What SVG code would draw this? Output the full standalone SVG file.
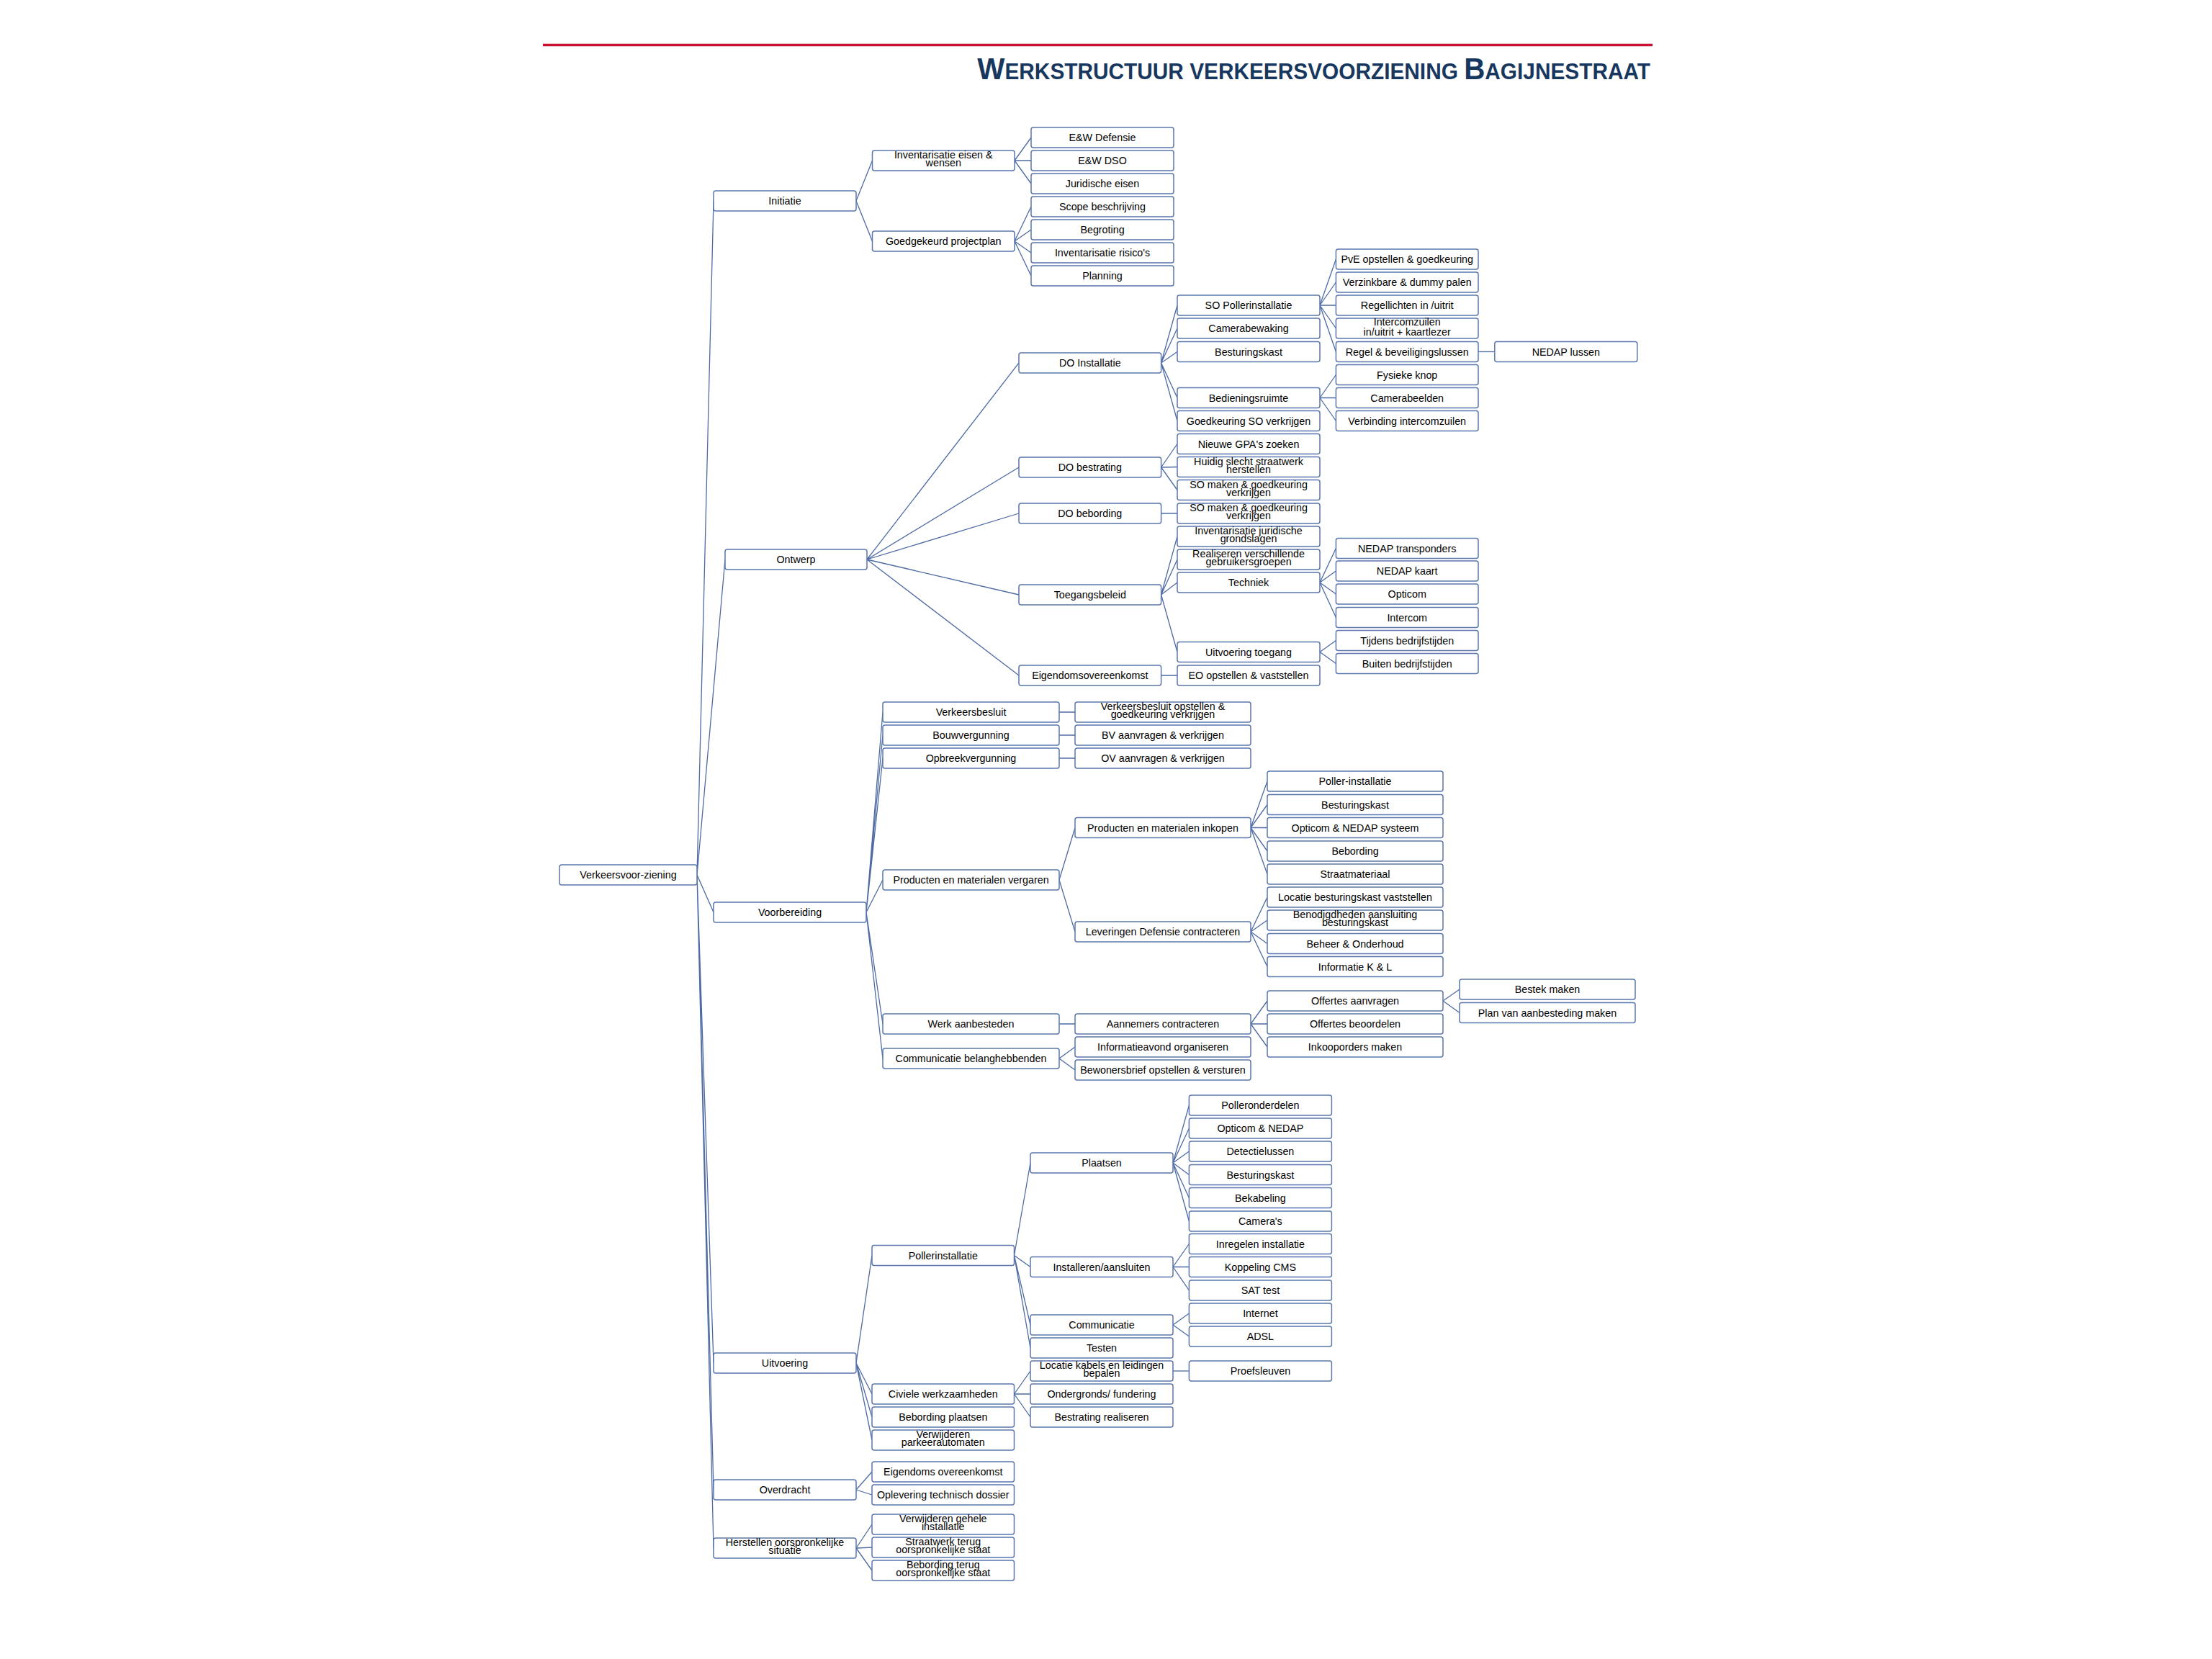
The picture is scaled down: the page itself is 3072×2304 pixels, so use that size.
<svg xmlns="http://www.w3.org/2000/svg" width="3072" height="2304" viewBox="0 0 3072 2304">
<style>
.b{fill:#fff;stroke:#5b77ad;stroke-width:1.5}
.t{font-family:"Liberation Sans",Arial,sans-serif;font-size:14.3px;text-anchor:middle;fill:#000}
.c{fill:none;stroke:#4e6aa3;stroke-width:1.3}
</style>
<rect width="3072" height="2304" fill="#fff"/>
<line x1="754" y1="62.5" x2="2295" y2="62.5" stroke="#c8102e" stroke-width="3.5"/>
<text transform="translate(2292,110) scale(0.962,1)" text-anchor="end" font-family="Liberation Sans,Arial,sans-serif" font-weight="bold" fill="#17375e"><tspan font-size="42">W</tspan><tspan font-size="31">ERKSTRUCTUUR VERKEERSVOORZIENING </tspan><tspan font-size="42">B</tspan><tspan font-size="31">AGIJNESTRAAT</tspan></text>

<g id="connectors" class="c">
<path d="M968 1215L991 279M968 1215L1007 777M968 1215L991 1267M968 1215L991 1893M968 1215L991 2069M968 1215L991 2150"/>
<path d="M1189 279L1211.5 223M1189 279L1211.5 335"/>
<path d="M1409 223L1432 191M1409 223L1432 223M1409 223L1432 255"/>
<path d="M1409 335L1432 287M1409 335L1432 319M1409 335L1432 351M1409 335L1432 383"/>
<path d="M1204 777L1415 504M1204 777L1415 649M1204 777L1415 713M1204 777L1415 826M1204 777L1415 938"/>
<path d="M1612.6 504L1635 424M1612.6 504L1635 456M1612.6 504L1635 488.5M1612.6 504L1635 552.5M1612.6 504L1635 584.5"/>
<path d="M1612.6 649L1635 616.5M1612.6 649L1635 648.5M1612.6 649L1635 680.5"/>
<path d="M1612.6 713L1635 713M1612.6 938L1635 938"/>
<path d="M1612.6 826L1635 745M1612.6 826L1635 777M1612.6 826L1635 809M1612.6 826L1635 905.5"/>
<path d="M1833 424L1855.4 360M1833 424L1855.4 392M1833 424L1855.4 424M1833 424L1855.4 456M1833 424L1855.4 488.5"/>
<path d="M1833 552.5L1855.4 520.5M1833 552.5L1855.4 552.5M1833 552.5L1855.4 584.5"/>
<path d="M2053 488.5L2075.8 488.5"/>
<path d="M1833 809L1855.4 761.5M1833 809L1855.4 793M1833 809L1855.4 825M1833 809L1855.4 857.5"/>
<path d="M1833 905.5L1855.4 889.5M1833 905.5L1855.4 921.5"/>
<path d="M1203 1267L1226 989M1203 1267L1226 1021M1203 1267L1226 1053M1203 1267L1226 1222M1203 1267L1226 1422M1203 1267L1226 1470"/>
<path d="M1471 989L1493 989M1471 1021L1493 1021M1471 1053L1493 1053M1471 1422L1493 1422"/>
<path d="M1471 1222L1493 1149.5M1471 1222L1493 1294"/>
<path d="M1737 1149.5L1760 1085M1737 1149.5L1760 1117.5M1737 1149.5L1760 1149.5M1737 1149.5L1760 1182M1737 1149.5L1760 1214"/>
<path d="M1737 1294L1760 1246M1737 1294L1760 1278M1737 1294L1760 1310.5M1737 1294L1760 1342.5"/>
<path d="M1737 1422L1760 1390M1737 1422L1760 1422M1737 1422L1760 1454"/>
<path d="M2004 1390L2027 1374M2004 1390L2027 1406.5"/>
<path d="M1471 1470L1493 1454M1471 1470L1493 1486"/>
<path d="M1189 1893L1211 1743.5M1189 1893L1211 1936M1189 1893L1211 1968M1189 1893L1211 2000"/>
<path d="M1408.5 1743.5L1431 1615M1408.5 1743.5L1431 1759.5M1408.5 1743.5L1431 1840M1408.5 1743.5L1431 1872"/>
<path d="M1629 1615L1651.4 1535M1629 1615L1651.4 1567M1629 1615L1651.4 1599M1629 1615L1651.4 1631.5M1629 1615L1651.4 1663.5M1629 1615L1651.4 1696"/>
<path d="M1629 1759.5L1651.4 1727.5M1629 1759.5L1651.4 1759.5M1629 1759.5L1651.4 1792"/>
<path d="M1629 1840L1651.4 1824M1629 1840L1651.4 1856"/>
<path d="M1408.5 1936L1431 1904M1408.5 1936L1431 1936M1408.5 1936L1431 1968"/>
<path d="M1629 1904L1651.4 1904"/>
<path d="M1189 2069L1211 2044M1189 2069L1211 2076"/>
<path d="M1189 2150L1211 2117M1189 2150L1211 2149M1189 2150L1211 2181"/>
</g>

<g id="n-root" transform="translate(777,1201)"><rect class="b" width="191" height="28" rx="3"/><text class="t" x="95.5" y="19">Verkeersvoor-ziening</text></g>

<g id="n-initiatie" transform="translate(991,265)"><rect class="b" width="198" height="28" rx="3"/><text class="t" x="99" y="19">Initiatie</text></g>
<g id="n-ontwerp" transform="translate(1007,763)"><rect class="b" width="197" height="28" rx="3"/><text class="t" x="98.5" y="19">Ontwerp</text></g>
<g id="n-voorbereiding" transform="translate(991,1253)"><rect class="b" width="212" height="28" rx="3"/><text class="t" x="106" y="19">Voorbereiding</text></g>
<g id="n-uitvoering" transform="translate(991,1879)"><rect class="b" width="198" height="28" rx="3"/><text class="t" x="99" y="19">Uitvoering</text></g>
<g id="n-overdracht" transform="translate(991,2055)"><rect class="b" width="198" height="28" rx="3"/><text class="t" x="99" y="19">Overdracht</text></g>
<g id="n-herstellen" transform="translate(991,2136)"><rect class="b" width="198" height="28" rx="3"/><text class="t" x="99" y="11">Herstellen oorspronkelijke</text><text class="t" x="99" y="22">situatie</text></g>

<g id="n-inv-eisen" transform="translate(1211.5,209)"><rect class="b" width="197.5" height="28" rx="3"/><text class="t" x="98.75" y="11">Inventarisatie eisen &amp;</text><text class="t" x="98.75" y="22">wensen</text></g>
<g id="n-goedgekeurd" transform="translate(1211.5,321)"><rect class="b" width="197.5" height="28" rx="3"/><text class="t" x="98.75" y="19">Goedgekeurd projectplan</text></g>
<g id="n-ew-defensie" transform="translate(1432,177)"><rect class="b" width="198" height="28" rx="3"/><text class="t" x="99" y="19">E&amp;W Defensie</text></g>
<g id="n-ew-dso" transform="translate(1432,209)"><rect class="b" width="198" height="28" rx="3"/><text class="t" x="99" y="19">E&amp;W DSO</text></g>
<g id="n-juridische" transform="translate(1432,241)"><rect class="b" width="198" height="28" rx="3"/><text class="t" x="99" y="19">Juridische eisen</text></g>
<g id="n-scope" transform="translate(1432,273)"><rect class="b" width="198" height="28" rx="3"/><text class="t" x="99" y="19">Scope beschrijving</text></g>
<g id="n-begroting" transform="translate(1432,305)"><rect class="b" width="198" height="28" rx="3"/><text class="t" x="99" y="19">Begroting</text></g>
<g id="n-risicos" transform="translate(1432,337)"><rect class="b" width="198" height="28" rx="3"/><text class="t" x="99" y="19">Inventarisatie risico's</text></g>
<g id="n-planning" transform="translate(1432,369)"><rect class="b" width="198" height="28" rx="3"/><text class="t" x="99" y="19">Planning</text></g>

<g id="n-do-installatie" transform="translate(1415,490)"><rect class="b" width="197.6" height="28" rx="3"/><text class="t" x="98.8" y="19">DO Installatie</text></g>
<g id="n-do-bestrating" transform="translate(1415,635)"><rect class="b" width="197.6" height="28" rx="3"/><text class="t" x="98.8" y="19">DO bestrating</text></g>
<g id="n-do-bebording" transform="translate(1415,699)"><rect class="b" width="197.6" height="28" rx="3"/><text class="t" x="98.8" y="19">DO bebording</text></g>
<g id="n-toegangsbeleid" transform="translate(1415,812)"><rect class="b" width="197.6" height="28" rx="3"/><text class="t" x="98.8" y="19">Toegangsbeleid</text></g>
<g id="n-eigendomsovereenkomst" transform="translate(1415,924)"><rect class="b" width="197.6" height="28" rx="3"/><text class="t" x="98.8" y="19">Eigendomsovereenkomst</text></g>

<g id="n-so-poller" transform="translate(1635,410)"><rect class="b" width="198" height="28" rx="3"/><text class="t" x="99" y="19">SO Pollerinstallatie</text></g>
<g id="n-camerabewaking" transform="translate(1635,442)"><rect class="b" width="198" height="28" rx="3"/><text class="t" x="99" y="19">Camerabewaking</text></g>
<g id="n-besturingskast-1" transform="translate(1635,474.5)"><rect class="b" width="198" height="28" rx="3"/><text class="t" x="99" y="19">Besturingskast</text></g>
<g id="n-bedieningsruimte" transform="translate(1635,538.5)"><rect class="b" width="198" height="28" rx="3"/><text class="t" x="99" y="19">Bedieningsruimte</text></g>
<g id="n-goedkeuring-so" transform="translate(1635,570.5)"><rect class="b" width="198" height="28" rx="3"/><text class="t" x="99" y="19">Goedkeuring SO verkrijgen</text></g>
<g id="n-gpa" transform="translate(1635,602.5)"><rect class="b" width="198" height="28" rx="3"/><text class="t" x="99" y="19">Nieuwe GPA's zoeken</text></g>
<g id="n-huidig" transform="translate(1635,634.5)"><rect class="b" width="198" height="28" rx="3"/><text class="t" x="99" y="11">Huidig slecht straatwerk</text><text class="t" x="99" y="22">herstellen</text></g>
<g id="n-so-maken-1" transform="translate(1635,666.5)"><rect class="b" width="198" height="28" rx="3"/><text class="t" x="99" y="11">SO maken &amp; goedkeuring</text><text class="t" x="99" y="22">verkrijgen</text></g>
<g id="n-so-maken-2" transform="translate(1635,699)"><rect class="b" width="198" height="28" rx="3"/><text class="t" x="99" y="11">SO maken &amp; goedkeuring</text><text class="t" x="99" y="22">verkrijgen</text></g>
<g id="n-inv-juridisch" transform="translate(1635,731)"><rect class="b" width="198" height="28" rx="3"/><text class="t" x="99" y="11">Inventarisatie juridische</text><text class="t" x="99" y="22">grondslagen</text></g>
<g id="n-realiseren" transform="translate(1635,763)"><rect class="b" width="198" height="28" rx="3"/><text class="t" x="99" y="11">Realiseren verschillende</text><text class="t" x="99" y="22">gebruikersgroepen</text></g>
<g id="n-techniek" transform="translate(1635,795)"><rect class="b" width="198" height="28" rx="3"/><text class="t" x="99" y="19">Techniek</text></g>
<g id="n-uitvoering-toegang" transform="translate(1635,891.5)"><rect class="b" width="198" height="28" rx="3"/><text class="t" x="99" y="19">Uitvoering toegang</text></g>
<g id="n-eo-opstellen" transform="translate(1635,924)"><rect class="b" width="198" height="28" rx="3"/><text class="t" x="99" y="19">EO opstellen &amp; vaststellen</text></g>

<g id="n-pve" transform="translate(1855.4,346)"><rect class="b" width="197.6" height="28" rx="3"/><text class="t" x="98.8" y="19">PvE opstellen &amp; goedkeuring</text></g>
<g id="n-verzinkbare" transform="translate(1855.4,378)"><rect class="b" width="197.6" height="28" rx="3"/><text class="t" x="98.8" y="19">Verzinkbare &amp; dummy palen</text></g>
<g id="n-regellichten" transform="translate(1855.4,410)"><rect class="b" width="197.6" height="28" rx="3"/><text class="t" x="98.8" y="19">Regellichten in /uitrit</text></g>
<g id="n-intercomzuilen" transform="translate(1855.4,442)"><rect class="b" width="197.6" height="28" rx="3"/><text class="t" x="98.8" y="9.5">Intercomzuilen</text><text class="t" x="98.8" y="23.5">in/uitrit + kaartlezer</text></g>
<g id="n-regel-bev" transform="translate(1855.4,474.5)"><rect class="b" width="197.6" height="28" rx="3"/><text class="t" x="98.8" y="19">Regel &amp; beveiligingslussen</text></g>
<g id="n-fysieke" transform="translate(1855.4,506.5)"><rect class="b" width="197.6" height="28" rx="3"/><text class="t" x="98.8" y="19">Fysieke knop</text></g>
<g id="n-camerabeelden" transform="translate(1855.4,538.5)"><rect class="b" width="197.6" height="28" rx="3"/><text class="t" x="98.8" y="19">Camerabeelden</text></g>
<g id="n-verbinding" transform="translate(1855.4,570.5)"><rect class="b" width="197.6" height="28" rx="3"/><text class="t" x="98.8" y="19">Verbinding intercomzuilen</text></g>
<g id="n-nedap-lussen" transform="translate(2075.8,474.5)"><rect class="b" width="198" height="28" rx="3"/><text class="t" x="99" y="19">NEDAP lussen</text></g>
<g id="n-nedap-transponders" transform="translate(1855.4,747.5)"><rect class="b" width="197.6" height="28" rx="3"/><text class="t" x="98.8" y="19">NEDAP transponders</text></g>
<g id="n-nedap-kaart" transform="translate(1855.4,779)"><rect class="b" width="197.6" height="28" rx="3"/><text class="t" x="98.8" y="19">NEDAP kaart</text></g>
<g id="n-opticom" transform="translate(1855.4,811)"><rect class="b" width="197.6" height="28" rx="3"/><text class="t" x="98.8" y="19">Opticom</text></g>
<g id="n-intercom" transform="translate(1855.4,843.5)"><rect class="b" width="197.6" height="28" rx="3"/><text class="t" x="98.8" y="19">Intercom</text></g>
<g id="n-tijdens" transform="translate(1855.4,875.5)"><rect class="b" width="197.6" height="28" rx="3"/><text class="t" x="98.8" y="19">Tijdens bedrijfstijden</text></g>
<g id="n-buiten" transform="translate(1855.4,907.5)"><rect class="b" width="197.6" height="28" rx="3"/><text class="t" x="98.8" y="19">Buiten bedrijfstijden</text></g>

<g id="n-verkeersbesluit" transform="translate(1226,975)"><rect class="b" width="245" height="28" rx="3"/><text class="t" x="122.5" y="19">Verkeersbesluit</text></g>
<g id="n-bouwvergunning" transform="translate(1226,1007)"><rect class="b" width="245" height="28" rx="3"/><text class="t" x="122.5" y="19">Bouwvergunning</text></g>
<g id="n-opbreekvergunning" transform="translate(1226,1039)"><rect class="b" width="245" height="28" rx="3"/><text class="t" x="122.5" y="19">Opbreekvergunning</text></g>
<g id="n-producten-vergaren" transform="translate(1226,1208)"><rect class="b" width="245" height="28" rx="3"/><text class="t" x="122.5" y="19">Producten en materialen vergaren</text></g>
<g id="n-werk-aanbesteden" transform="translate(1226,1408)"><rect class="b" width="245" height="28" rx="3"/><text class="t" x="122.5" y="19">Werk aanbesteden</text></g>
<g id="n-communicatie-bel" transform="translate(1226,1456)"><rect class="b" width="245" height="28" rx="3"/><text class="t" x="122.5" y="19">Communicatie belanghebbenden</text></g>

<g id="n-vb-opstellen" transform="translate(1493,975)"><rect class="b" width="244" height="28" rx="3"/><text class="t" x="122" y="11">Verkeersbesluit opstellen &amp;</text><text class="t" x="122" y="22">goedkeuring verkrijgen</text></g>
<g id="n-bv" transform="translate(1493,1007)"><rect class="b" width="244" height="28" rx="3"/><text class="t" x="122" y="19">BV aanvragen &amp; verkrijgen</text></g>
<g id="n-ov" transform="translate(1493,1039)"><rect class="b" width="244" height="28" rx="3"/><text class="t" x="122" y="19">OV aanvragen &amp; verkrijgen</text></g>
<g id="n-inkopen" transform="translate(1493,1135.5)"><rect class="b" width="244" height="28" rx="3"/><text class="t" x="122" y="19">Producten en materialen inkopen</text></g>
<g id="n-leveringen" transform="translate(1493,1280)"><rect class="b" width="244" height="28" rx="3"/><text class="t" x="122" y="19">Leveringen Defensie contracteren</text></g>
<g id="n-aannemers" transform="translate(1493,1408)"><rect class="b" width="244" height="28" rx="3"/><text class="t" x="122" y="19">Aannemers contracteren</text></g>
<g id="n-informatieavond" transform="translate(1493,1440)"><rect class="b" width="244" height="28" rx="3"/><text class="t" x="122" y="19">Informatieavond organiseren</text></g>
<g id="n-bewonersbrief" transform="translate(1493,1472)"><rect class="b" width="244" height="28" rx="3"/><text class="t" x="122" y="19">Bewonersbrief opstellen &amp; versturen</text></g>

<g id="n-poller-installatie" transform="translate(1760,1071)"><rect class="b" width="244" height="28" rx="3"/><text class="t" x="122" y="19">Poller-installatie</text></g>
<g id="n-besturingskast-2" transform="translate(1760,1103.5)"><rect class="b" width="244" height="28" rx="3"/><text class="t" x="122" y="19">Besturingskast</text></g>
<g id="n-opticom-nedap-systeem" transform="translate(1760,1135.5)"><rect class="b" width="244" height="28" rx="3"/><text class="t" x="122" y="19">Opticom &amp; NEDAP systeem</text></g>
<g id="n-bebording" transform="translate(1760,1168)"><rect class="b" width="244" height="28" rx="3"/><text class="t" x="122" y="19">Bebording</text></g>
<g id="n-straatmateriaal" transform="translate(1760,1200)"><rect class="b" width="244" height="28" rx="3"/><text class="t" x="122" y="19">Straatmateriaal</text></g>
<g id="n-locatie-kast" transform="translate(1760,1232)"><rect class="b" width="244" height="28" rx="3"/><text class="t" x="122" y="19">Locatie besturingskast vaststellen</text></g>
<g id="n-benodigdheden" transform="translate(1760,1264)"><rect class="b" width="244" height="28" rx="3"/><text class="t" x="122" y="11">Benodigdheden aansluiting</text><text class="t" x="122" y="22">besturingskast</text></g>
<g id="n-beheer" transform="translate(1760,1296.5)"><rect class="b" width="244" height="28" rx="3"/><text class="t" x="122" y="19">Beheer &amp; Onderhoud</text></g>
<g id="n-informatie-kl" transform="translate(1760,1328.5)"><rect class="b" width="244" height="28" rx="3"/><text class="t" x="122" y="19">Informatie K &amp; L</text></g>
<g id="n-offertes-aanvragen" transform="translate(1760,1376)"><rect class="b" width="244" height="28" rx="3"/><text class="t" x="122" y="19">Offertes aanvragen</text></g>
<g id="n-offertes-beoordelen" transform="translate(1760,1408)"><rect class="b" width="244" height="28" rx="3"/><text class="t" x="122" y="19">Offertes beoordelen</text></g>
<g id="n-inkooporders" transform="translate(1760,1440)"><rect class="b" width="244" height="28" rx="3"/><text class="t" x="122" y="19">Inkooporders maken</text></g>
<g id="n-bestek" transform="translate(2027,1360)"><rect class="b" width="244" height="28" rx="3"/><text class="t" x="122" y="19">Bestek maken</text></g>
<g id="n-plan-aanbesteding" transform="translate(2027,1392.5)"><rect class="b" width="244" height="28" rx="3"/><text class="t" x="122" y="19">Plan van aanbesteding maken</text></g>

<g id="n-pollerinstallatie" transform="translate(1211,1729.5)"><rect class="b" width="197.5" height="28" rx="3"/><text class="t" x="98.75" y="19">Pollerinstallatie</text></g>
<g id="n-civiele" transform="translate(1211,1922)"><rect class="b" width="197.5" height="28" rx="3"/><text class="t" x="98.75" y="19">Civiele werkzaamheden</text></g>
<g id="n-bebording-plaatsen" transform="translate(1211,1954)"><rect class="b" width="197.5" height="28" rx="3"/><text class="t" x="98.75" y="19">Bebording plaatsen</text></g>
<g id="n-verwijderen-parkeer" transform="translate(1211,1986)"><rect class="b" width="197.5" height="28" rx="3"/><text class="t" x="98.75" y="11">Verwijderen</text><text class="t" x="98.75" y="22">parkeerautomaten</text></g>
<g id="n-eigendoms-ov" transform="translate(1211,2030)"><rect class="b" width="197.5" height="28" rx="3"/><text class="t" x="98.75" y="19">Eigendoms overeenkomst</text></g>
<g id="n-oplevering" transform="translate(1211,2062)"><rect class="b" width="197.5" height="28" rx="3"/><text class="t" x="98.75" y="19">Oplevering technisch dossier</text></g>
<g id="n-verwijderen-gehele" transform="translate(1211,2103)"><rect class="b" width="197.5" height="28" rx="3"/><text class="t" x="98.75" y="11">Verwijderen gehele</text><text class="t" x="98.75" y="22">installatie</text></g>
<g id="n-straatwerk-terug" transform="translate(1211,2135)"><rect class="b" width="197.5" height="28" rx="3"/><text class="t" x="98.75" y="11">Straatwerk terug</text><text class="t" x="98.75" y="22">oorspronkelijke staat</text></g>
<g id="n-bebording-terug" transform="translate(1211,2167)"><rect class="b" width="197.5" height="28" rx="3"/><text class="t" x="98.75" y="11">Bebording terug</text><text class="t" x="98.75" y="22">oorspronkelijke staat</text></g>

<g id="n-plaatsen" transform="translate(1431,1601)"><rect class="b" width="198" height="28" rx="3"/><text class="t" x="99" y="19">Plaatsen</text></g>
<g id="n-installeren" transform="translate(1431,1745.5)"><rect class="b" width="198" height="28" rx="3"/><text class="t" x="99" y="19">Installeren/aansluiten</text></g>
<g id="n-communicatie" transform="translate(1431,1826)"><rect class="b" width="198" height="28" rx="3"/><text class="t" x="99" y="19">Communicatie</text></g>
<g id="n-testen" transform="translate(1431,1858)"><rect class="b" width="198" height="28" rx="3"/><text class="t" x="99" y="19">Testen</text></g>
<g id="n-locatie-kabels" transform="translate(1431,1890)"><rect class="b" width="198" height="28" rx="3"/><text class="t" x="99" y="11">Locatie kabels en leidingen</text><text class="t" x="99" y="22">bepalen</text></g>
<g id="n-ondergronds" transform="translate(1431,1922)"><rect class="b" width="198" height="28" rx="3"/><text class="t" x="99" y="19">Ondergronds/ fundering</text></g>
<g id="n-bestrating-realiseren" transform="translate(1431,1954)"><rect class="b" width="198" height="28" rx="3"/><text class="t" x="99" y="19">Bestrating realiseren</text></g>

<g id="n-polleronderdelen" transform="translate(1651.4,1521)"><rect class="b" width="198" height="28" rx="3"/><text class="t" x="99" y="19">Polleronderdelen</text></g>
<g id="n-opticom-nedap" transform="translate(1651.4,1553)"><rect class="b" width="198" height="28" rx="3"/><text class="t" x="99" y="19">Opticom &amp; NEDAP</text></g>
<g id="n-detectielussen" transform="translate(1651.4,1585)"><rect class="b" width="198" height="28" rx="3"/><text class="t" x="99" y="19">Detectielussen</text></g>
<g id="n-besturingskast-3" transform="translate(1651.4,1617.5)"><rect class="b" width="198" height="28" rx="3"/><text class="t" x="99" y="19">Besturingskast</text></g>
<g id="n-bekabeling" transform="translate(1651.4,1649.5)"><rect class="b" width="198" height="28" rx="3"/><text class="t" x="99" y="19">Bekabeling</text></g>
<g id="n-cameras" transform="translate(1651.4,1682)"><rect class="b" width="198" height="28" rx="3"/><text class="t" x="99" y="19">Camera's</text></g>
<g id="n-inregelen" transform="translate(1651.4,1713.5)"><rect class="b" width="198" height="28" rx="3"/><text class="t" x="99" y="19">Inregelen installatie</text></g>
<g id="n-koppeling" transform="translate(1651.4,1745.5)"><rect class="b" width="198" height="28" rx="3"/><text class="t" x="99" y="19">Koppeling CMS</text></g>
<g id="n-sat" transform="translate(1651.4,1778)"><rect class="b" width="198" height="28" rx="3"/><text class="t" x="99" y="19">SAT test</text></g>
<g id="n-internet" transform="translate(1651.4,1810)"><rect class="b" width="198" height="28" rx="3"/><text class="t" x="99" y="19">Internet</text></g>
<g id="n-adsl" transform="translate(1651.4,1842)"><rect class="b" width="198" height="28" rx="3"/><text class="t" x="99" y="19">ADSL</text></g>
<g id="n-proefsleuven" transform="translate(1651.4,1890)"><rect class="b" width="198" height="28" rx="3"/><text class="t" x="99" y="19">Proefsleuven</text></g>
</svg>
